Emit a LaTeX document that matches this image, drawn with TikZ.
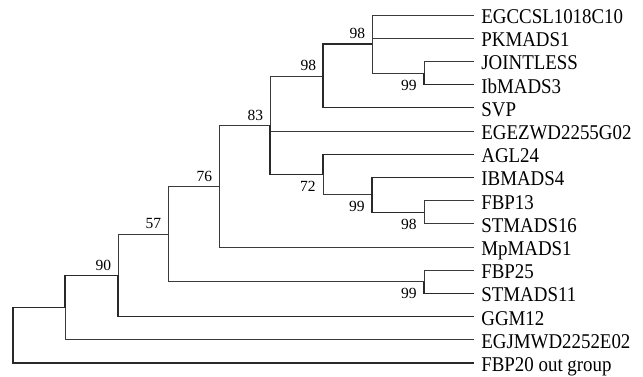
\documentclass[tikz,border=0pt]{standalone}
\usepackage{fontspec}
\setmainfont{Liberation Serif}
\newfontfamily\taxonfont[FakeStretch=0.9]{Liberation Serif}
\usetikzlibrary{positioning}
\definecolor{cline}{HTML}{3A3A3A}
\tikzset{
  every picture/.style={line width=0.7pt},
  branch/.style={draw=cline, line width=0.7pt},
  heavy/.style={draw=cline!70!black, line width=1.3pt},
  taxon/.style={anchor=west, inner xsep=7pt, inner ysep=0pt, text height=16.9pt, text depth=0pt, font=\taxonfont\fontsize{21}{21}\selectfont},
  bootup/.style={anchor=base east, inner sep=0pt, xshift=-6.5pt, yshift=5pt, font=\fontsize{15.5}{15.5}\selectfont},
  bootdown/.style={anchor=north east, inner sep=0pt, xshift=-7pt, yshift=-6.5pt, font=\fontsize{15.5}{15.5}\selectfont},
}

\begin{document}
\begin{tikzpicture}[x=1pt, y=-1pt]
  \useasboundingbox (0,0) rectangle (643,377);
  % ---------- taxa ----------
  \foreach \name [count=\i] in {EGCCSL1018C10, PKMADS1, JOINTLESS, IbMADS3, SVP, EGEZWD2255G02, AGL24, IBMADS4, FBP13, STMADS16, MpMADS1, FBP25, STMADS11, GGM12, EGJMWD2252E02, {FBP20 out group}} {
    \node[taxon] (t\i) at (474, {15+23.2*(\i-1)}) {\name};
  }
  % ---------- internal nodes ----------
  \coordinate (a) at (424, 73.0);
  \coordinate (b) at (372, 44.0);
  \coordinate (c) at (323, 75.9);
  \coordinate (d) at (424, 212.2);
  \coordinate (e) at (372, 194.8);
  \coordinate (f) at (323, 174.5);
  \coordinate (g) at (270, 125.2);
  \coordinate (h) at (219, 186.1);
  \coordinate (i) at (424, 281.8);
  \coordinate (j) at (168, 234.0);
  \coordinate (k) at (118, 275.3);
  \coordinate (l) at (65, 307.5);
  \coordinate (root) at (13, 335.3);
  % ---------- branches ----------
  \draw[heavy] (root) |- (l);
  \draw[heavy] (root) |- (t16.west);
  \draw[heavy] (l) |- (k);
  \draw[branch] (l) |- (t15.west);
  \draw[branch] (k) |- (j);
  \draw[heavy] (k) |- (t14.west);
  \draw[branch] (j) |- (h);
  \draw[branch] (j) |- (i);
  \draw[branch] (i) |- (t12.west);
  \draw[heavy] (i) |- (t13.west);
  \draw[branch] (h) |- (g);
  \draw[branch] (h) |- (t11.west);
  \draw[branch] (g) |- (c);
  \draw[branch] (g) |- (t6.west);
  \draw[heavy] (g) |- (f);
  \draw[heavy] (c) |- (b);
  \draw[heavy] (c) |- (t5.west);
  \draw[branch] (b) |- (t1.west);
  \draw[branch] (b) |- (t2.west);
  \draw[branch] (b) |- (a);
  \draw[branch] (a) |- (t3.west);
  \draw[heavy] (a) |- (t4.west);
  \draw[heavy] (f) |- (t7.west);
  \draw[branch] (f) |- (e);
  \draw[heavy] (e) |- (t8.west);
  \draw[heavy] (e) |- (d);
  \draw[branch] (d) |- (t9.west);
  \draw[branch] (d) |- (t10.west);
  % ---------- bootstrap values ----------
  \node[bootup] (sb) at (b) {98};
  \node[bootup] (sc) at (c) {98};
  \node[bootup] (sg) at (g) {83};
  \node[bootup] (sh) at (h) {76};
  \node[bootup] (sj) at (j) {57};
  \node[bootup] (sk) at (k) {90};
  \node[bootdown] (sa) at (a) {99};
  \node[bootdown] (sf) at (f) {72};
  \node[bootdown] (se) at (e) {99};
  \node[bootdown] (sd) at (d) {98};
  \node[bootdown] (si) at (i) {99};
\end{tikzpicture}
\end{document}
